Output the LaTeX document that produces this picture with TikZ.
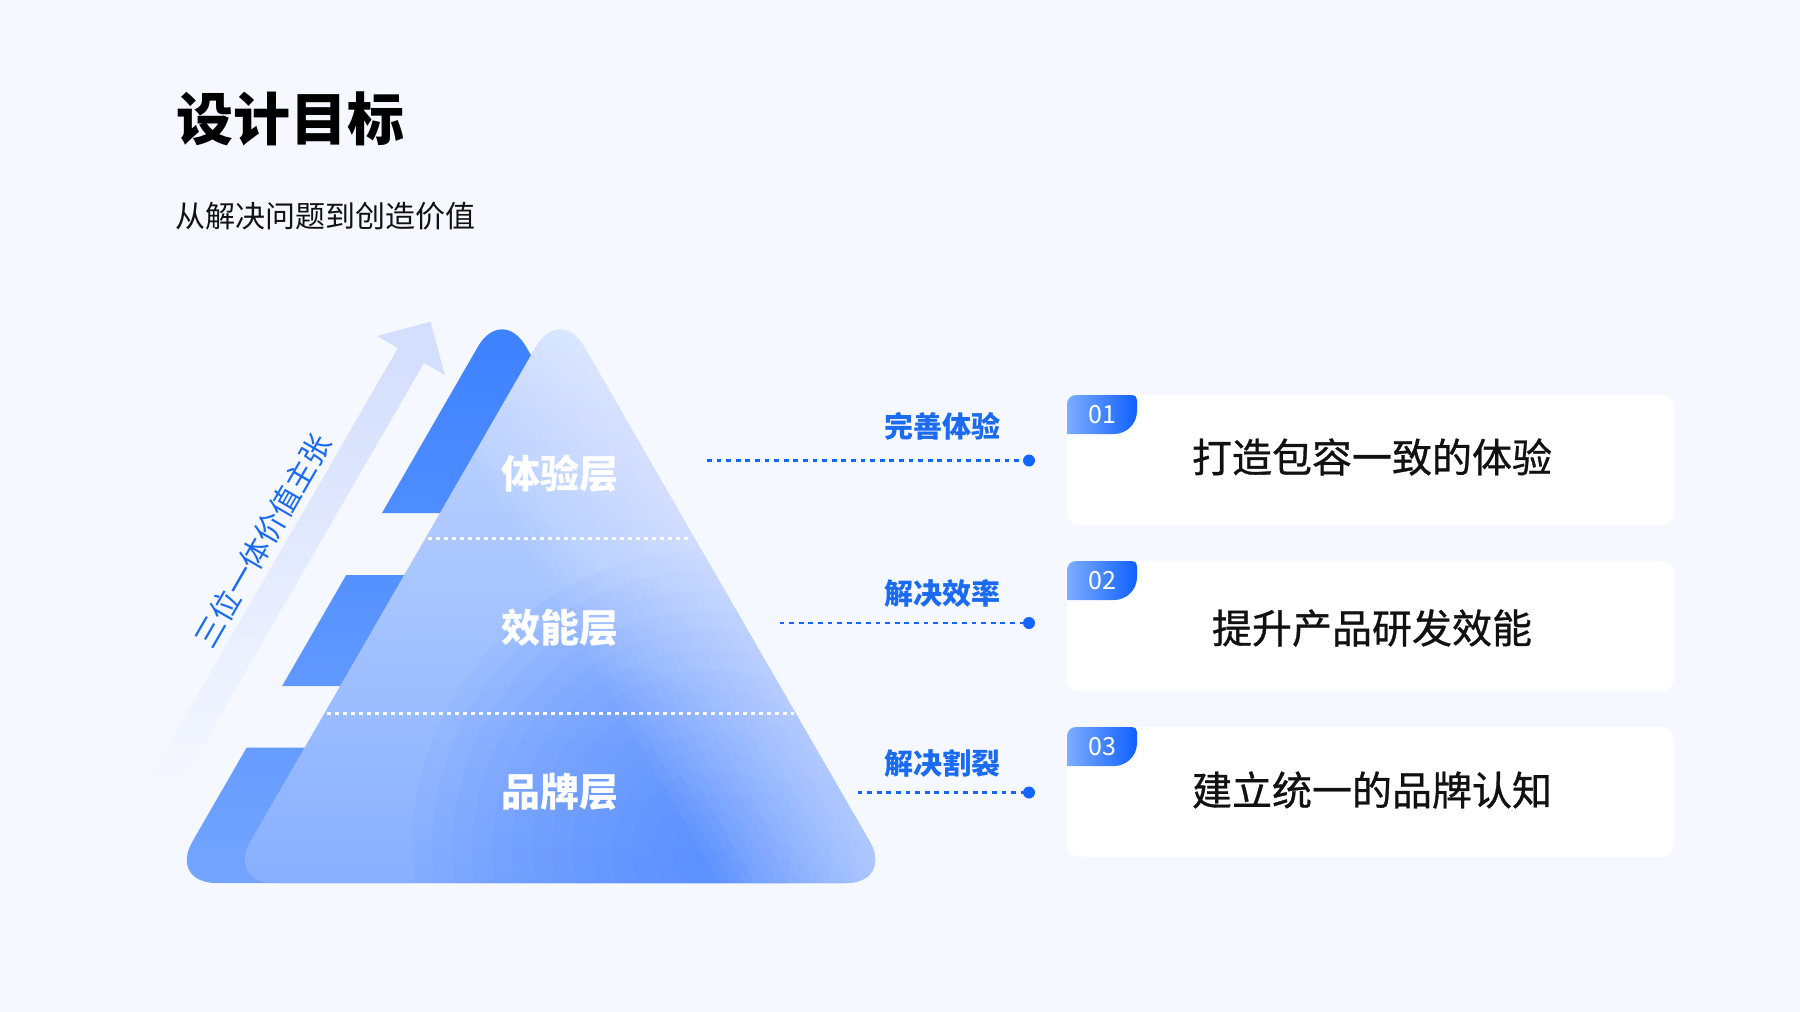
\documentclass[tikz,border=0pt]{standalone}
\usepackage{fontspec}
\setmainfont{Noto Sans CJK SC}
\newfontfamily\cardfont[FakeBold=0.8]{Noto Sans CJK SC}
\definecolor{bg}{HTML}{F5F8FF}
\definecolor{arrowcol}{HTML}{D4DEFD}
\definecolor{backtop}{HTML}{3A80FF}
\definecolor{backbot}{HTML}{74A5FF}
\definecolor{fronttop}{HTML}{C6D9FF}
\definecolor{frontbot}{HTML}{88AFFF}
\definecolor{glowcol}{HTML}{4A86FF}
\definecolor{accent}{HTML}{1A6AF2}
\definecolor{dotcol}{HTML}{1466FF}
\definecolor{badgeL}{HTML}{7CADFF}
\definecolor{badgeR}{HTML}{0F60FF}
\definecolor{ink}{HTML}{111111}
\begin{document}
\begin{tikzpicture}[x=0.5pt,y=-0.5pt,
  txt/.style={inner sep=0pt, outer sep=0pt},
  layerlbl/.style={txt, text=white, font=\fontsize{19.5pt}{22pt}\selectfont\bfseries},
  sidelbl/.style={txt, text=accent, font=\fontsize{14.5pt}{17pt}\selectfont\bfseries},
  sepline/.style={white, line width=1.5pt, dash pattern=on 2pt off 2pt},
  conn/.style={dotcol, line width=1.3pt, dash pattern=on 2.4pt off 2.4pt},
  enddot/.style={circle, fill=dotcol, minimum size=6pt, inner sep=0pt},
  card/.style={rectangle, fill=white, rounded corners=6pt, minimum width=303.5pt, minimum height=65pt, inner sep=0pt},
  cardtxt/.style={txt, text=ink, font=\fontsize{20pt}{24pt}\cardfont},
  badgenum/.style={txt, text=white, font=\fontsize{12.5pt}{14pt}\selectfont}
]
\fill[bg] (0,0) rectangle (1800,1012);
\useasboundingbox (0,0) rectangle (1800,1012);

% title
\node[txt, anchor=west, text=black, font=\fontsize{28.5pt}{32pt}\selectfont\bfseries] (title) at (176,119) {设计目标};
\node[txt, anchor=west, text=ink, font=\fontsize{15pt}{18pt}\selectfont] (subtitle) at (175,216) {从解决问题到创造价值};

% rising arrow
\coordinate (arrowbase) at (411,355.5);
\coordinate (arrowtip) at (430.5,321.7);
\shade[top color=arrowcol, bottom color=bg] (152,773.5) -- (398,348) -- (424,363) -- (178,788.5) -- cycle;
\fill[arrowcol] (377.2,336) -- (arrowtip) -- (444.8,375) -- cycle;
\node[txt, rotate=60, text=accent, font=\fontsize{15pt}{18pt}\selectfont] (arrowtxt) at (262.5,541) {三位一体价值主张};

% back (stepped) shape
\begin{scope}
\clip (0,0) rectangle (1800,513) (0,575) rectangle (1800,686) (0,747.7) rectangle (1800,1012);
\shade[top color=backtop, bottom color=backbot, rounded corners=24pt] (502,305) -- (835.5,883) -- (168.5,883) -- cycle;
\end{scope}

% front pyramid
\shade[top color=fronttop, bottom color=frontbot, rounded corners=24pt] (560,305) -- (893.5,883) -- (226.5,883) -- cycle;
\begin{scope}
\clip[rounded corners=24pt] (560,305) -- (893.5,883) -- (226.5,883) -- cycle;
\foreach \r in {20,40,...,300} {
  \fill[glowcol, opacity=0.065] (712,850) circle[radius=\r];
}
\foreach \d in {10,20,...,150} {
  \fill[white, opacity=0.045] ({510-0.866*\d},{218.4+0.5*\d}) -- ({960-0.866*\d},{997.8+0.5*\d}) -- (1100,1000) -- (700,100) -- cycle;
}
\end{scope}

% separators
\coordinate (s1a) at (428,538.5); \coordinate (s1b) at (692,538.5);
\coordinate (s2a) at (327,713); \coordinate (s2b) at (794,713);
\draw[sepline] (s1a) -- (s1b);
\draw[sepline] (s2a) -- (s2b);

% layer labels
\node[layerlbl] (L1) at (560,474) {体验层};
\node[layerlbl] (L2) at (560,628) {效能层};
\node[layerlbl] (L3) at (560,792) {品牌层};

% connectors
\coordinate (c1) at (707,460.5);
\coordinate (c2) at (779.5,623);
\coordinate (c3) at (857.5,792.5);
\node[enddot] (d1) at (1029,460.5) {};
\node[enddot] (d2) at (1029,623) {};
\node[enddot] (d3) at (1029,792.5) {};
\draw[conn] (c1) -- (d1);
\draw[conn] (c2) -- (d2);
\draw[conn] (c3) -- (d3);
\node[sidelbl] (t1) at (942.5,426.7) {完善体验};
\node[sidelbl] (t2) at (942.5,593.3) {解决效率};
\node[sidelbl] (t3) at (942.5,763.3) {解决割裂};

% cards
\node[card] (card1) at (1370.5,460) {};
\node[card] (card2) at (1370.5,626) {};
\node[card] (card3) at (1370.5,792) {};

% badges
\foreach \yy/\num/\nm in {395/01/b1, 561/02/b2, 727/03/b3} {
  \shade[left color=badgeL, right color=badgeR]
    (1067,\yy+39) -- (1067,\yy+9) .. controls (1067,\yy+4) and (1071,\yy) .. (1076,\yy)
    -- (1132,\yy) .. controls (1135,\yy) and (1137,\yy+2) .. (1137,\yy+5)
    -- (1137,\yy+16) .. controls (1137,\yy+28.7) and (1126.7,\yy+39) .. (1114,\yy+39) -- cycle;
  \node[badgenum] (\nm) at (1102,\yy+20) {\num};
}

\node[cardtxt] (ct1) at (1372,457) {打造包容一致的体验};
\node[cardtxt] (ct2) at (1372,628) {提升产品研发效能};
\node[cardtxt] (ct3) at (1372,790) {建立统一的品牌认知};
\end{tikzpicture}
\end{document}
